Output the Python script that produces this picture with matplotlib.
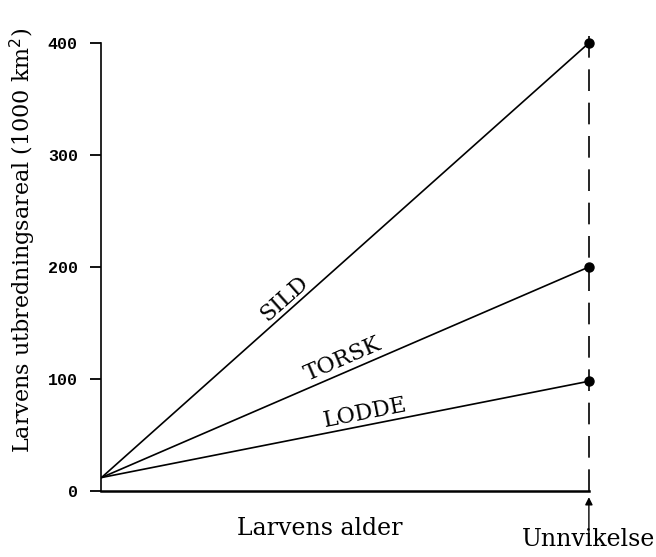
import numpy as np
from matplotlib import pyplot as plt

# data
species = ["SILD", "TORSK", "LODDE"]
start_value = 12
end_values = [400, 200, 98]
label_pos = [0.39, 0.505, 0.546]
yticks = [0, 100, 200, 300, 400]

plt.rcParams['font.family'] = ['DejaVu Serif']

fig = plt.figure(figsize=(6.56, 5.57), dpi=100)
ax = fig.add_axes([0.1547, 0.1185, 0.743, 0.8043])
ax.set_xlim(0, 1)
ax.set_ylim(0, 400)

for name, end, xl in zip(species, end_values, label_pos):
    ax.plot([0, 1], [start_value, end], color='black', lw=1.2, solid_capstyle='round')
    ax.plot(1, end, 'o', color='black', ms=6.5, clip_on=False, zorder=5)
    # angle of the line on screen
    p0 = ax.transData.transform((0, start_value))
    p1 = ax.transData.transform((1, end))
    ang = np.degrees(np.arctan2(p1[1] - p0[1], p1[0] - p0[0]))
    yl = start_value + (end - start_value) * xl
    ax.annotate(name, (xl, yl), xytext=(0, 1), textcoords='offset points',
                rotation=ang, rotation_mode='anchor', ha='center', va='bottom',
                fontsize=16)

# dashed line at the end of the axis
ax.plot([1, 1], [0, 413], color='black', lw=1.2, ls=(0, (13, 7)), clip_on=False)

# arrow and label below the x axis
ax.annotate("", xy=(1, -5.5), xytext=(1, -37.5),
            arrowprops=dict(arrowstyle='-|>', color='black', lw=1.0,
                            shrinkA=0, shrinkB=0, mutation_scale=11),
            annotation_clip=False)
fig.text(655 / 656, 1 - 546 / 557, "Unnvikelse", ha='right', va='baseline', fontsize=17)

ax.spines['top'].set_visible(False)
ax.spines['right'].set_visible(False)
ax.spines['left'].set_linewidth(1.2)
ax.spines['bottom'].set_linewidth(1.8)
ax.set_xticks([])
ax.set_yticks(yticks)
ax.set_yticklabels([str(v) for v in yticks], family='Liberation Mono', fontsize=12, fontweight='bold')
ax.tick_params(axis='y', length=8, width=1.3, pad=9)

ax.set_xlabel("Larvens alder", fontsize=17, va='top')
ax.xaxis.set_label_coords(0.447, -0.058)
ax.set_ylabel("Larvens utbredningsareal (1000 km$^2$)", fontsize=16)
ax.yaxis.set_label_coords(-0.13, 0.56)

fig.savefig("out.png", dpi=100)
